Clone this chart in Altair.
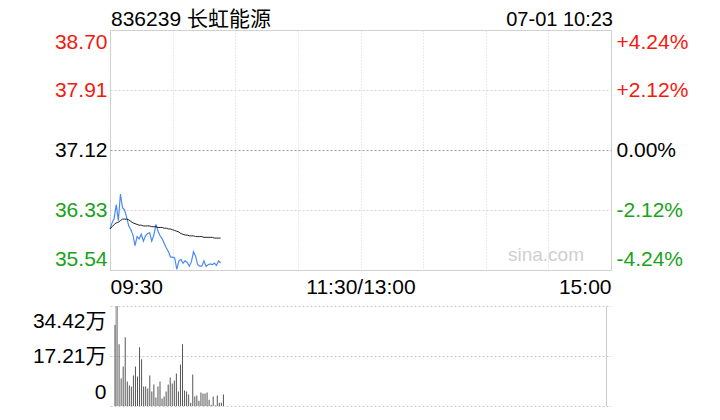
import altair as alt
import pandas as pd

# minutes after 09:30 (trading-time index, 240 minutes per day)
minutes = list(range(54))

price = [36.08, 36.16, 36.22, 36.40, 36.19, 36.54, 36.36, 36.33, 36.23, 36.12,
         36.07, 36.00, 35.86, 35.98, 35.95, 36.01, 35.92, 35.99, 36.02, 36.03,
         35.92, 36.00, 36.14, 36.05, 35.99, 35.95, 35.89, 35.83, 35.78, 35.71,
         35.71, 35.70, 35.55, 35.66, 35.68, 35.63, 35.66, 35.64, 35.59, 35.65,
         35.78, 35.72, 35.61, 35.59, 35.59, 35.66, 35.59, 35.61, 35.62, 35.61,
         35.63, 35.60, 35.66, 35.63]

avg = [36.08, 36.11, 36.14, 36.16, 36.17, 36.19, 36.21, 36.21, 36.21, 36.20,
       36.18, 36.16, 36.15, 36.14, 36.13, 36.13, 36.12, 36.12, 36.12, 36.12,
       36.11, 36.11, 36.11, 36.10, 36.10, 36.10, 36.09, 36.09, 36.08, 36.08,
       36.07, 36.06, 36.05, 36.04, 36.02, 36.01, 36.00, 36.00, 35.99, 35.99,
       35.99, 35.98, 35.98, 35.98, 35.98, 35.97, 35.97, 35.97, 35.97, 35.97,
       35.96, 35.96, 35.96, 35.96]

volume = [278400, 344200, 212500, 94700, 136300, 236800, 84300, 70500, 67000, 105100,
          136300, 101600, 202100, 160500, 67000, 67000, 60100, 105100, 49700, 73900,
          28900, 67000, 84300, 25400, 32300, 49700, 73900, 98200, 77400, 87800,
          112000, 49700, 143200, 212500, 53100, 49700, 39300, 11500, 108600, 32300,
          35800, 18500, 46200, 42700, 42700, 46200, 21900, 4600, 32300, 1500,
          35800, 11500, 11500, 39300]

prev_close = 37.12
price_ticks = [35.54, 36.33, 37.12, 37.91, 38.70]
pct_labels = ["-4.24%", "-2.12%", "0.00%", "+2.12%", "+4.24%"]
vol_ticks = [0, 172100, 344200]
vol_labels = ["0", "17.21万", "34.42万"]
time_ticks = [0, 30, 60, 90, 120, 150, 180, 210, 240]
time_labels = {0: "09:30", 120: "11:30/13:00", 240: "15:00"}

title_text = "836239 长虹能源"
date_text = "07-01 10:23"
watermark = "sina.com"

FONT = "Liberation Sans, 'Noto Sans CJK SC', sans-serif"
RED = "#f21a0f"
GREEN = "#19a319"


def label_expr(values, labels):
    parts = [f"abs(datum.value - {v}) < 0.001 ? '{l}'" for v, l in zip(values, labels)]
    return " : ".join(parts) + " : ''"


color_cond = {
    "condition": [
        {"test": f"datum.value > {prev_close} + 0.001", "value": RED},
        {"test": f"datum.value < {prev_close} - 0.001", "value": GREEN},
    ],
    "value": "#000",
}

df = pd.DataFrame({"t": minutes, "price": price, "avg": avg, "vol": volume})

W = 501
x_scale = alt.Scale(domain=[0, 240], nice=False, zero=False)
y_scale = alt.Scale(domain=[price_ticks[0], price_ticks[-1]], nice=False, zero=False)

x_axis = alt.Axis(
    values=time_ticks,
    labelExpr=" : ".join(f"datum.value == {k} ? '{v}'" for k, v in time_labels.items()) + " : ''",
    grid=True, gridColor="#d6d6d6", gridDash=[1, 2],
    domain=False, ticks=False, labelFlush=True, labelOverlap=False,
    labelFontSize=21, labelPadding=6, labelColor="#000", title=None,
)

price_line = alt.Chart(df).mark_line(color="#4a8af4", strokeWidth=1.2).encode(
    x=alt.X("t:Q", scale=x_scale, axis=x_axis),
    y=alt.Y("price:Q", scale=y_scale, axis=alt.Axis(
        orient="left", values=price_ticks, format=".2f",
        labelColor=color_cond, grid=True, gridDash=[2, 2],
        gridColor={"condition": {"test": f"abs(datum.value - {prev_close}) < 0.001", "value": "#9a9a9a"},
                   "value": "#d6d6d6"},
        domain=False, ticks=False, labelFlush=True, labelFlushOffset=-1,
        labelFontSize=21, labelPadding=3, title=None)),
)

avg_line = alt.Chart(df).mark_line(color="#222", strokeWidth=1).encode(
    x=alt.X("t:Q", scale=x_scale),
    y=alt.Y("avg:Q", scale=y_scale, axis=alt.Axis(
        orient="right", values=price_ticks,
        labelExpr=label_expr(price_ticks, pct_labels),
        labelColor=color_cond, grid=False,
        domain=False, ticks=False, labelFlush=True, labelFlushOffset=-1,
        labelFontSize=21, labelPadding=5, title=None)),
)

title_mark = alt.Chart(pd.DataFrame({"txt": [title_text]})).mark_text(
    align="left", baseline="middle", fontSize=21, font=FONT, color="#000"
).encode(x=alt.value(1), y=alt.value(-10), text="txt:N")

date_mark = alt.Chart(pd.DataFrame({"txt": [date_text]})).mark_text(
    align="right", baseline="middle", fontSize=20, font=FONT, color="#000"
).encode(x=alt.value(W + 2), y=alt.value(-10), text="txt:N")

wm_mark = alt.Chart(pd.DataFrame({"txt": [watermark]})).mark_text(
    align="center", baseline="middle", fontSize=19, font=FONT, color="#cfcfcf"
).encode(x=alt.value(436), y=alt.value(225), text="txt:N")

price_panel = alt.layer(wm_mark, price_line, avg_line, title_mark, date_mark).resolve_scale(
    y="independent"
).properties(width=W, height=240, view=alt.ViewBackground(stroke="#cccccc", strokeWidth=1))

vol_panel = alt.Chart(df).mark_bar(width=1, color="#555555").encode(
    x=alt.X("t:Q", scale=x_scale, axis=alt.Axis(
        values=[0, 240], grid=True, gridColor="#cccccc", labels=False,
        ticks=False, domain=False, title=None)),
    y=alt.Y("vol:Q", scale=alt.Scale(domain=[0, vol_ticks[-1]], nice=False), axis=alt.Axis(
        values=vol_ticks, labelExpr=label_expr(vol_ticks, vol_labels),
        grid=True, gridDash=[2, 2], gridColor="#c8c8c8", labelColor="#000",
        domain=False, ticks=False, labelFlush=True, labelFlushOffset=-4,
        labelFontSize=21, labelPadding=4, title=None)),
).properties(width=W, height=100, view=alt.ViewBackground(stroke=None))

chart = alt.vconcat(price_panel, vol_panel, spacing=36, bounds="flush").properties(
    padding={"left": 24, "top": 0, "right": 5, "bottom": 5}
).configure_axis(labelFont=FONT).configure_view(stroke=None)

chart.save("out.html", embed_options={"renderer": "svg", "actions": False})
